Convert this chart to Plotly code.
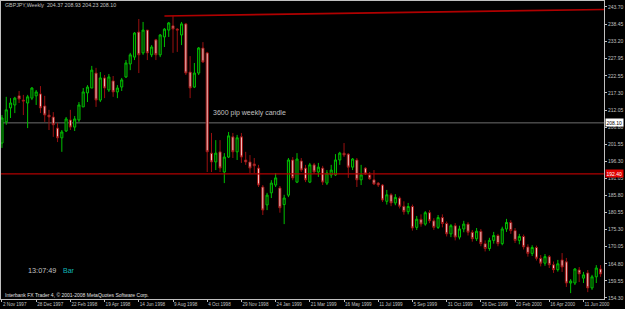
import pandas as pd
import plotly.graph_objects as go

symbol_text = "GBPJPY,Weekly  204.37 208.93 204.23 208.10"
start_week = "1997-11-02"

opens = [
    201.9, 208.4, 212.7, 213.6, 216.4, 215.1, 214.2, 215.7, 216.4, 217.0,
    213.3, 210.5, 209.9, 206.5, 203.5, 205.6, 209.0, 206.8, 209.0, 213.0,
    217.3, 218.8, 223.4, 215.1, 221.9, 218.2, 221.0, 217.6, 219.1, 222.2,
    226.2, 228.3, 236.0, 229.6, 236.6, 229.0, 233.6, 229.0, 234.5, 236.6,
    237.9, 236.9, 235.1, 238.5, 223.7, 219.1, 223.4, 231.1, 229.6, 198.8,
    196.1, 199.2, 193.0, 197.6, 203.8, 199.2, 203.8, 196.7, 196.1, 195.5,
    194.2, 188.4, 182.9, 186.6, 189.0, 188.1, 183.0, 185.9, 196.7, 189.9,
    196.4, 194.2, 189.9, 195.2, 193.0, 194.2, 189.6, 192.1, 192.1, 196.7,
    198.8, 198.5, 194.5, 196.7, 190.6, 194.2, 192.1, 190.6, 189.6, 189.0,
    184.0, 186.0, 183.5, 185.0, 182.5, 180.8, 182.4, 176.0, 178.5, 177.0,
    180.5, 178.0, 176.0, 179.0, 177.2, 174.0, 176.5, 173.0, 175.5, 177.0,
    174.5, 172.5, 174.8, 171.0, 169.5, 172.0, 173.5, 171.0, 175.5, 177.5,
    175.0, 172.0, 173.2, 170.0, 168.0, 169.8, 166.5, 165.0, 167.0, 164.5,
    163.0, 166.0, 165.4, 158.9, 158.9, 162.9, 160.4, 162.0, 157.4, 160.8,
    163.2,
]
highs = [
    210.5, 216.1, 215.7, 216.1, 217.9, 216.7, 216.7, 219.1, 218.2, 219.4,
    216.4, 212.1, 211.4, 208.1, 205.9, 209.9, 212.1, 210.2, 214.5, 218.8,
    219.7, 225.6, 225.0, 223.7, 222.8, 223.1, 222.5, 219.7, 221.9, 227.4,
    229.6, 236.0, 240.0, 239.1, 236.6, 232.0, 233.9, 235.4, 237.2, 239.1,
    240.9, 237.2, 239.1, 238.8, 228.6, 226.5, 231.4, 232.9, 229.9, 205.0,
    202.8, 202.8, 198.8, 205.3, 205.0, 204.4, 205.0, 199.2, 198.2, 197.3,
    195.2, 189.0, 186.6, 190.5, 192.7, 188.7, 186.0, 197.3, 197.6, 198.8,
    197.3, 195.2, 195.8, 195.8, 195.8, 194.9, 193.6, 195.2, 198.5, 199.2,
    201.9, 198.8, 197.3, 197.3, 195.2, 194.5, 193.0, 193.6, 189.9, 189.3,
    187.5, 186.5, 186.2, 185.5, 184.0, 183.5, 183.0, 179.5, 180.0, 181.0,
    181.3, 178.8, 179.8, 180.0, 177.8, 177.0, 177.3, 176.5, 178.0, 177.6,
    175.2, 175.8, 175.5, 172.0, 172.8, 174.6, 174.0, 176.2, 178.6, 178.2,
    175.8, 174.0, 173.8, 170.8, 170.5, 170.4, 167.5, 167.8, 167.5, 165.5,
    166.0, 168.1, 166.6, 160.1, 163.5, 163.8, 162.3, 162.9, 161.4, 164.4,
    164.4,
]
lows = [
    200.4, 207.5, 209.6, 211.1, 214.2, 210.5, 206.5, 215.1, 213.6, 211.1,
    208.4, 205.9, 203.8, 202.2, 199.2, 205.3, 205.9, 205.6, 208.4, 213.0,
    214.5, 218.8, 213.0, 214.5, 215.7, 217.6, 216.1, 215.7, 217.9, 221.9,
    224.3, 227.4, 223.4, 229.0, 227.4, 228.3, 227.4, 228.3, 231.4, 234.5,
    229.6, 229.9, 232.0, 222.8, 215.7, 218.8, 222.8, 226.5, 193.0, 193.0,
    193.6, 193.0, 189.6, 197.3, 197.3, 196.7, 195.8, 195.2, 192.7, 192.7,
    188.4, 179.8, 181.3, 185.0, 188.4, 180.5, 177.0, 185.3, 190.5, 189.6,
    193.0, 189.9, 189.6, 192.4, 191.5, 189.0, 189.0, 191.2, 191.8, 195.2,
    197.6, 191.2, 193.6, 188.4, 189.0, 192.1, 190.6, 189.0, 188.4, 183.8,
    183.0, 182.5, 182.8, 181.8, 179.9, 180.0, 175.0, 175.2, 176.2, 176.5,
    177.3, 175.2, 175.5, 176.0, 173.2, 173.0, 172.0, 172.3, 174.5, 173.5,
    171.6, 171.8, 170.2, 168.6, 168.8, 171.0, 170.2, 170.5, 174.6, 174.0,
    171.2, 170.8, 169.2, 167.0, 167.2, 165.8, 164.0, 164.2, 163.5, 162.0,
    162.4, 162.3, 157.7, 155.8, 158.3, 159.2, 158.9, 156.1, 156.8, 158.9,
    160.8,
]
closes = [
    209.6, 212.1, 214.2, 215.7, 215.4, 214.8, 216.1, 218.8, 217.6, 212.7,
    210.5, 209.9, 207.5, 203.5, 205.3, 209.3, 206.8, 209.3, 213.6, 217.6,
    219.1, 224.3, 215.1, 221.9, 218.8, 222.2, 217.6, 218.8, 221.3, 226.5,
    229.0, 235.7, 229.0, 236.6, 229.6, 231.4, 229.0, 235.1, 236.9, 238.8,
    236.9, 236.6, 238.5, 223.4, 218.8, 223.4, 231.1, 226.8, 199.2, 196.1,
    198.8, 194.2, 197.6, 204.1, 199.2, 203.5, 197.6, 196.1, 194.2, 194.9,
    189.0, 181.3, 185.9, 189.6, 191.2, 182.0, 185.0, 196.7, 191.2, 197.0,
    193.6, 190.6, 195.2, 193.0, 194.5, 189.9, 192.7, 193.6, 196.7, 198.8,
    198.2, 194.5, 197.0, 190.6, 192.1, 192.4, 190.9, 189.3, 189.0, 184.4,
    186.0, 183.5, 185.2, 182.5, 180.8, 182.4, 175.8, 178.5, 177.0, 180.5,
    178.0, 176.0, 179.0, 177.2, 174.0, 176.5, 173.0, 175.5, 177.0, 174.5,
    172.5, 174.8, 171.0, 169.5, 172.0, 173.5, 171.0, 175.5, 177.5, 175.0,
    172.0, 173.2, 170.0, 168.0, 169.8, 166.5, 165.0, 167.0, 164.5, 163.0,
    164.8, 163.8, 158.9, 159.5, 163.2, 161.7, 161.4, 157.4, 160.8, 163.5,
    161.7,
]

price_ticks = [243.70, 238.45, 233.20, 227.95, 222.55, 217.30, 212.05, 206.80,
               201.55, 196.30, 191.05, 185.80, 180.55, 175.30, 170.05, 164.80,
               159.55, 154.30]
price_tick_labels = ["243.70", "238.45", "233.20", "227.95", "222.55", "217.30",
                     "212.05", "206.80", "201.55", "196.30", "191.05", "185.80",
                     "180.55", "175.30", "170.05", "164.80", "159.55", "154.30"]
date_ticks = ["1997-11-02", "1997-12-28", "1998-02-22", "1998-04-19", "1998-06-14",
              "1998-08-09", "1998-10-04", "1998-11-29", "1999-01-24", "1999-03-21",
              "1999-05-16", "1999-07-11", "1999-09-05", "1999-10-31", "1999-12-26",
              "2000-02-20", "2000-04-16", "2000-06-11"]
date_tick_labels = ["2 Nov 1997", "28 Dec 1997", "22 Feb 1998", "19 Apr 1998",
                    "14 Jun 1998", "9 Aug 1998", "4 Oct 1998", "29 Nov 1998",
                    "24 Jan 1999", "21 Mar 1999", "16 May 1999", "11 Jul 1999",
                    "5 Sep 1999", "31 Oct 1999", "26 Dec 1999", "20 Feb 2000",
                    "16 Apr 2000", "11 Jun 2000"]

current_price = 208.10
hline_price = 192.40
trend_start = ("1998-07-26", 240.94)
trend_end_price = 242.93
note_text = "3600 pip weekly candle"
note_price = 211.0
note_week = "1998-10-11"

dates = pd.date_range(start_week, periods=len(opens), freq="7D")
x_start = dates[0] - pd.Timedelta(days=1.6)
x_end = dates[0] + pd.Timedelta(days=140.8 * 7)

FG = "#C0C0C0"
FONT = "Liberation Sans, Arial, sans-serif"

fig = go.Figure()
fig.add_trace(go.Candlestick(
    x=dates, open=opens, high=highs, low=lows, close=closes,
    increasing=dict(line=dict(color="#00C000", width=1), fillcolor="#002000"),
    decreasing=dict(line=dict(color="#9a1010", width=1), fillcolor="#f2c2c2"),
    whiskerwidth=0, hoverinfo="skip", showlegend=False,
))

shapes = [
    dict(type="line", xref="paper", x0=0, x1=1, yref="y", y0=current_price, y1=current_price,
         line=dict(color="#6e6e6e", width=1), layer="below"),
    dict(type="line", xref="paper", x0=0, x1=1, yref="y", y0=hline_price, y1=hline_price,
         line=dict(color="#b00000", width=1.2)),
    dict(type="line", xref="x", x0=trend_start[0], x1=x_end, yref="y",
         y0=trend_start[1], y1=trend_end_price, line=dict(color="#b00000", width=1.6)),
]

annotations = [
    dict(text=symbol_text, xref="paper", yref="paper", x=0.004, y=0.985, xanchor="left",
         yanchor="middle", showarrow=False, font=dict(color=FG, size=5.3, family=FONT)),
    dict(text=note_text, xref="x", yref="y", x=note_week, y=note_price, xanchor="left",
         yanchor="middle", showarrow=False, font=dict(color=FG, size=7, family=FONT)),
    dict(text="13:07:49", xref="paper", yref="paper", x=0.041, y=0.094, xanchor="left",
         yanchor="middle", showarrow=False, font=dict(color=FG, size=7.3, family=FONT)),
    dict(text="Bar", xref="paper", yref="paper", x=0.1, y=0.094, xanchor="left",
         yanchor="middle", showarrow=False, font=dict(color="#10b8b8", size=7, family=FONT)),
    dict(text="Interbank FX Trader 4, © 2001-2008 MetaQuotes Software Corp.", xref="paper",
         yref="paper", x=0.004, y=0.013, xanchor="left", yanchor="middle", showarrow=False,
         font=dict(color="#e0e0e0", size=5, family=FONT)),
    dict(text=f"{current_price:.2f}", xref="paper", yref="y", x=1, y=current_price,
         xanchor="left", yanchor="middle", xshift=1, showarrow=False, bgcolor="#ffffff",
         borderpad=0.5, font=dict(color="#000000", size=5, family=FONT)),
    dict(text=f"{hline_price:.2f}", xref="paper", yref="y", x=1, y=hline_price,
         xanchor="left", yanchor="middle", xshift=1, showarrow=False, bgcolor="#e00000",
         borderpad=0.5, font=dict(color="#ffffff", size=5, family=FONT)),
]

fig.update_layout(
    width=625, height=309,
    margin=dict(l=1, r=21, t=1, b=10, pad=0, autoexpand=False),
    paper_bgcolor="#000000", plot_bgcolor="#000000",
    shapes=shapes, annotations=annotations,
    hovermode=False,
    xaxis=dict(
        range=[x_start, x_end], rangeslider=dict(visible=False),
        tickmode="array", tickvals=date_ticks, ticktext=date_tick_labels,
        ticklabelposition="outside right", tickangle=0, automargin=False,
        ticks="outside", ticklen=2, tickcolor=FG,
        showgrid=False, zeroline=False, showline=True, linecolor=FG, linewidth=1,
        mirror=True, tickfont=dict(color=FG, size=4.6, family=FONT),
    ),
    yaxis=dict(
        side="right", range=[153.99, 245.54], automargin=False,
        tickmode="array", tickvals=price_ticks, ticktext=price_tick_labels,
        ticks="outside", ticklen=2, tickcolor=FG,
        showgrid=False, zeroline=False, showline=True, linecolor=FG, linewidth=1,
        mirror=True, tickfont=dict(color=FG, size=5, family=FONT),
    ),
)

fig.write_html("out.html", config={"displayModeBar": False, "staticPlot": True})
